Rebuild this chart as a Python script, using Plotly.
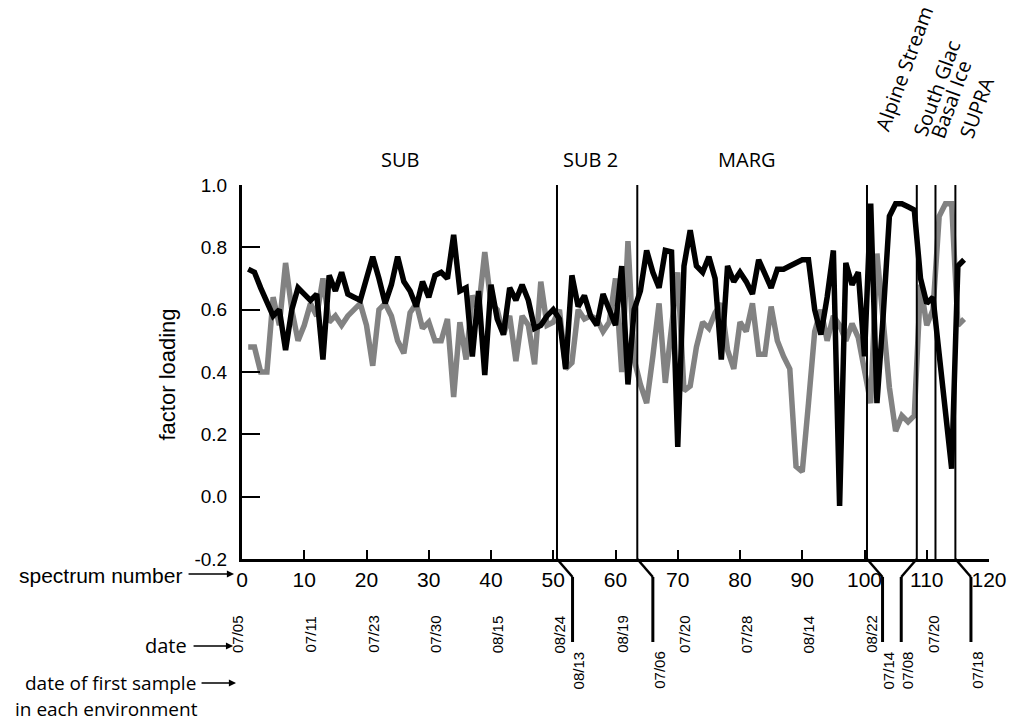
import plotly.graph_objects as go

# ---------------- data ----------------
spectrum = list(range(1, 117))
black_loading = [
    0.73, 0.72, 0.67, 0.62, 0.58, 0.60, 0.47, 0.60, 0.67, 0.65,
    0.63, 0.65, 0.44, 0.71, 0.66, 0.72, 0.65, 0.64, 0.63, 0.70,
    0.77, 0.70, 0.62, 0.68, 0.77, 0.69, 0.66, 0.61, 0.69, 0.64,
    0.71, 0.72, 0.70, 0.84, 0.66, 0.67, 0.45, 0.66, 0.39, 0.68,
    0.57, 0.52, 0.67, 0.63, 0.68, 0.63, 0.54, 0.55, 0.58, 0.60,
    0.57, 0.41, 0.71, 0.61, 0.645, 0.58, 0.55, 0.65, 0.60, 0.55,
    0.74, 0.36, 0.60, 0.66, 0.79, 0.72, 0.67, 0.79, 0.785, 0.16,
    0.74, 0.855, 0.74, 0.72, 0.77, 0.70, 0.44, 0.74, 0.69, 0.72,
    0.69, 0.65, 0.76, 0.71, 0.67, 0.73, 0.73, 0.74, 0.75, 0.76,
    0.76, 0.60, 0.52, 0.64, 0.79, -0.03, 0.75, 0.68, 0.72, 0.45,
    0.94, 0.30, 0.58, 0.90, 0.94, 0.94, 0.93, 0.92, 0.70, 0.62,
    0.64, 0.45, 0.27, 0.09, 0.74, 0.76,
]
gray_loading = [
    0.48, 0.48, 0.40, 0.40, 0.64, 0.55, 0.75, 0.60, 0.50, 0.55,
    0.62, 0.58, 0.70, 0.56, 0.58, 0.55, 0.58, 0.60, 0.62, 0.55,
    0.42, 0.60, 0.62, 0.58, 0.50, 0.46, 0.59, 0.62, 0.54, 0.56,
    0.50, 0.50, 0.57, 0.32, 0.56, 0.44, 0.645, 0.60, 0.785, 0.62,
    0.60, 0.52, 0.58, 0.435, 0.58, 0.55, 0.425, 0.69, 0.55, 0.56,
    0.60, 0.41, 0.43, 0.60, 0.57, 0.58, 0.57, 0.53, 0.56, 0.70,
    0.40, 0.82, 0.44, 0.36, 0.30, 0.45, 0.62, 0.365, 0.55, 0.72,
    0.34, 0.355, 0.48, 0.56, 0.54, 0.59, 0.62, 0.47, 0.41, 0.56,
    0.53, 0.62, 0.457, 0.457, 0.61, 0.50, 0.45, 0.41, 0.097, 0.08,
    0.30, 0.53, 0.60, 0.50, 0.58, 0.55, 0.50, 0.555, 0.51, 0.40,
    0.30, 0.78, 0.55, 0.35, 0.21, 0.26, 0.24, 0.26, 0.68, 0.55,
    0.60, 0.90, 0.94, 0.94, 0.55, 0.57,
]

x_ticks = [0, 10, 20, 30, 40, 50, 60, 70, 80, 90, 100, 110, 120]
y_ticks = [-0.2, 0.0, 0.2, 0.4, 0.6, 0.8, 1.0]
y_tick_text = ["-0.2", "0.0", "0.2", "0.4", "0.6", "0.8", "1.0"]

# dates at regular spectrum numbers
date_labels = ["07/05", "07/11", "07/23", "07/30", "08/15", "08/24",
               "08/19", "07/20", "07/28", "08/14", "08/22", "07/20"]
date_pos = [0, 11, 21, 31, 41, 51, 61, 71, 81, 91, 101, 111]

# environment boundaries (spectrum number)
boundaries = [50.6, 63.5, 100.4, 108.4, 111.4, 114.6]
# first-sample dates (leader from boundary to label column)
first_from = [50.6, 63.5, 100.4, 108.4, 114.6]
first_to = [53.1, 66.0, 102.9, 105.9, 117.1]
first_dates = ["08/13", "07/06", "07/14", "07/08", "07/18"]

env_labels = ["SUB", "SUB 2", "MARG"]
env_pos = [25.4, 56.0, 81.2]
rot_labels = ["Alpine Stream", "South Glac", "Basal Ice", "SUPRA"]
rot_pos = [106.3, 111.5, 113.9, 118.0]

# ---------------- layout geometry ----------------
W, H = 1019, 724
ML, MR, MT, MB = 242, 25, 185, 165
PW, PH = W - ML - MR, H - MT - MB


def px(xp):
    return (xp - ML) / PW


def py(yp):
    return (H - MB - yp) / PH


ARIAL = "Arial, Liberation Sans, sans-serif"
MYR = "Open Sans, Noto Sans, sans-serif"

fig = go.Figure()
fig.add_trace(go.Scatter(x=spectrum, y=gray_loading, mode="lines",
                         line=dict(color="#828282", width=5.5), hoverinfo="skip"))
fig.add_trace(go.Scatter(x=spectrum, y=black_loading, mode="lines",
                         line=dict(color="#000000", width=5.5), hoverinfo="skip"))

shapes = []
for b in boundaries:
    shapes.append(dict(type="line", xref="x", yref="y", x0=b, x1=b, y0=-0.2, y1=1.0,
                       line=dict(color="black", width=2)))
for a, e in zip(first_from, first_to):
    shapes.append(dict(type="line", xref="x", yref="paper", x0=a, x1=e,
                       y0=py(559), y1=py(577), line=dict(color="black", width=2.5)))
    shapes.append(dict(type="line", xref="x", yref="paper", x0=e, x1=e,
                       y0=py(577), y1=py(642), line=dict(color="black", width=3)))

ann = []
# y title
ann.append(dict(text="factor loading", xref="paper", yref="paper", x=px(167), y=py(374),
                textangle=-90, showarrow=False, font=dict(family=ARIAL, size=22, color="black"),
                xanchor="center", yanchor="middle"))
# left labels
ann.append(dict(text="spectrum number", xref="paper", yref="paper", x=px(184), y=py(575),
                xanchor="right", yanchor="middle", showarrow=False,
                font=dict(family=ARIAL, size=21, color="black")))
ann.append(dict(text="date", xref="paper", yref="paper", x=px(189), y=py(645),
                xanchor="right", yanchor="middle", showarrow=False,
                font=dict(family=MYR, size=20, color="black")))
ann.append(dict(text="date of first sample", xref="paper", yref="paper", x=px(198), y=py(683),
                xanchor="right", yanchor="middle", showarrow=False,
                font=dict(family=MYR, size=19, color="black")))
ann.append(dict(text="in each environment", xref="paper", yref="paper", x=px(106), y=py(709),
                xanchor="center", yanchor="middle", showarrow=False,
                font=dict(family=MYR, size=19, color="black")))
for (tip, tail, yy) in [(234, 187, 574), (233, 192, 646), (236, 200, 683)]:
    ann.append(dict(text="", xref="paper", yref="paper", x=px(tip), y=py(yy),
                    axref="pixel", ayref="pixel", ax=tail - tip, ay=0, showarrow=True,
                    arrowhead=2, arrowsize=1.1, arrowwidth=1.3, arrowcolor="black"))
# date row
for i, (lab, xp) in enumerate(zip(date_labels, date_pos)):
    ann.append(dict(text=lab, xref="x", yref="paper", x=xp, y=py(634), textangle=-90,
                    xshift=-5 if i == 0 else 0,
                    showarrow=False, xanchor="center", yanchor="middle",
                    font=dict(family=ARIAL, size=15, color="black")))
for lab, xp in zip(first_dates, first_to):
    ann.append(dict(text=lab, xref="x", yref="paper", x=xp + 0.95, y=py(670), textangle=-90,
                    showarrow=False, xanchor="center", yanchor="middle",
                    font=dict(family=ARIAL, size=15, color="black")))
# environment labels
for lab, xp in zip(env_labels, env_pos):
    ann.append(dict(text=lab, xref="x", yref="paper", x=xp, y=py(160), showarrow=False,
                    xanchor="center", yanchor="middle",
                    font=dict(family=MYR, size=20, color="black")))
for lab, xp, yp in zip(rot_labels, rot_pos, [68, 88, 100, 107.5]):
    ann.append(dict(text=lab, xref="x", yref="paper", x=xp, y=py(yp), textangle=-70,
                    showarrow=False, xanchor="center", yanchor="middle",
                    font=dict(family=MYR, size=20, color="black")))

fig.update_layout(
    width=W, height=H, margin=dict(l=ML, r=MR, t=MT, b=MB),
    paper_bgcolor="white", plot_bgcolor="white", showlegend=False,
    shapes=shapes, annotations=ann,
    xaxis=dict(range=[0, 120], tickvals=x_ticks, ticks="inside", ticklen=9, tickwidth=2,
               tickcolor="black", showline=True, linewidth=3, linecolor="black",
               showgrid=False, zeroline=False,
               tickfont=dict(family=ARIAL, size=21, color="black")),
    yaxis=dict(range=[-0.2, 1.0], tickvals=y_ticks, ticktext=y_tick_text, ticks="inside",
               ticklen=18, tickwidth=2, tickcolor="black", showline=True, linewidth=3,
               linecolor="black", showgrid=False, zeroline=False, ticklabelstandoff=8,
               tickfont=dict(family=ARIAL, size=19, color="black")),
)

fig.write_html("out.html")
